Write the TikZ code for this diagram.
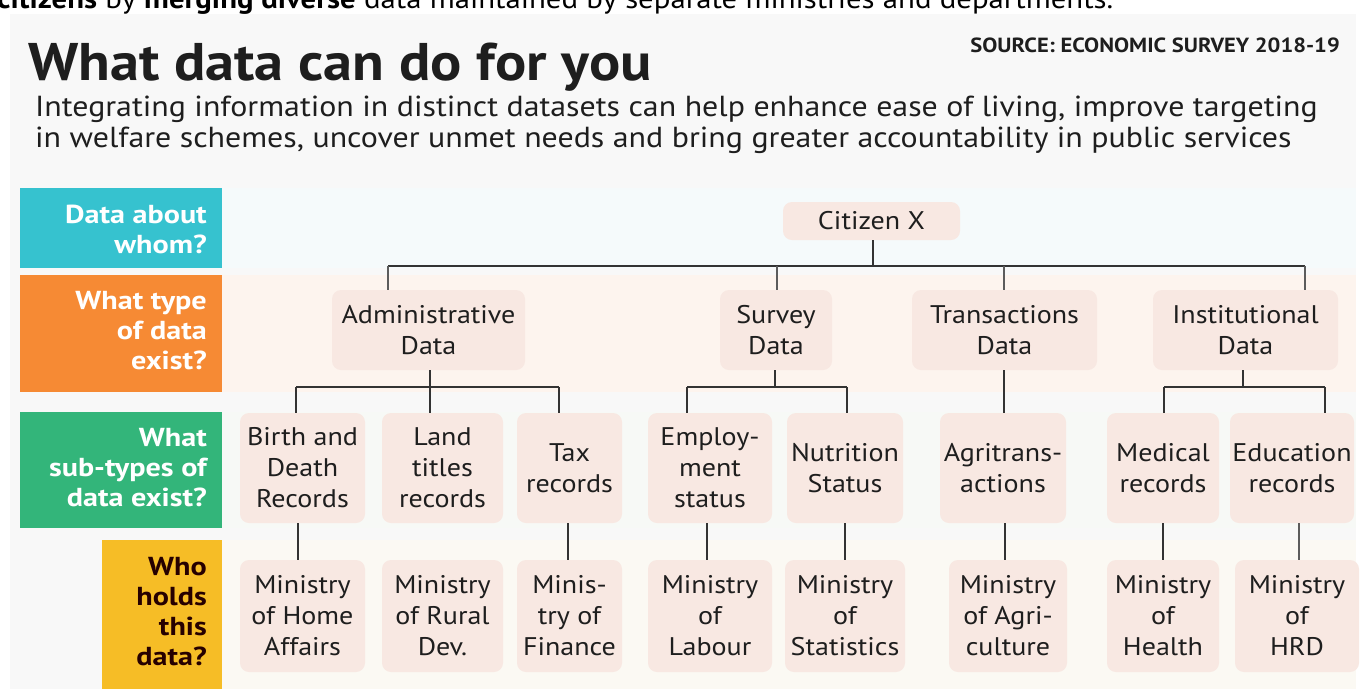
\documentclass[tikz,border=0pt]{standalone}
\usepackage{fontspec}
\setmainfont{PT Sans}[FakeStretch=1.1]
\newfontfamily\labelfont{PT Sans}[FakeStretch=1.16]
\definecolor{panel}{HTML}{F8F8F8}
\definecolor{bandA}{HTML}{F5FAFB}
\definecolor{bandB}{HTML}{FDF4EE}
\definecolor{bandC}{HTML}{F7F9F6}
\definecolor{bandD}{HTML}{FBF9F3}
\definecolor{qcyan}{HTML}{36C2CF}
\definecolor{qorange}{HTML}{F68A34}
\definecolor{qgreen}{HTML}{33B57A}
\definecolor{qyellow}{HTML}{F6BD26}
\definecolor{boxfill}{HTML}{F8E8E2}
\definecolor{ink}{HTML}{1E1E1E}
\definecolor{wire}{HTML}{333333}
\begin{document}
\begin{tikzpicture}[x=1pt,y=-1pt,
  databox/.style={fill=boxfill,rounded corners=9pt,inner sep=0pt,align=center,
    text=ink,font=\fontsize{25.5}{31}\selectfont},
  qlabel/.style={anchor=east,inner sep=0pt,align=right,
    font=\labelfont\fontsize{26}{30}\selectfont\bfseries},
  bus/.style={draw=wire,line width=2.2pt},
  drop/.style={draw=wire!80,line width=1.1pt},
  stem/.style={draw=wire,line width=1.4pt}]
\useasboundingbox (0,0) rectangle (1361,689);
\clip (0,0) rectangle (1361,689);
\fill[white] (0,0) rectangle (1361,689);

% line of running text above the panel
\node[anchor=base west,inner sep=0pt,text=black,font=\fontsize{28}{30}\selectfont]
  (lead) at (-3,8) {\textbf{citizens} by \textbf{merging diverse} data maintained by separate ministries and departments.};

% panel and row bands
\fill[panel] (10,14) rectangle (1356,689);
\fill[bandA] (222,188) rectangle (1356,268);
\fill[bandB] (222,275) rectangle (1356,392);
\fill[bandC] (222,412) rectangle (1356,528);
\fill[bandD] (222,540) rectangle (1356,689);

% heading
\node[anchor=base west,inner sep=0pt,text=ink,font=\fontsize{53}{60}\selectfont\bfseries]
  (title) at (28,80) {What data can do for you};
\node[anchor=base east,inner sep=0pt,text=ink,font=\fontsize{20.5}{22}\selectfont\bfseries]
  (source) at (1340,52) {SOURCE: ECONOMIC SURVEY 2018-19};
\node[anchor=base west,inner sep=0pt,text=ink,font=\fontsize{29}{31}\selectfont]
  (sub1) at (35,116) {Integrating information in distinct datasets can help enhance ease of living, improve targeting};
\node[anchor=base west,inner sep=0pt,text=ink,font=\fontsize{29}{31}\selectfont]
  (sub2) at (35,147) {in welfare schemes, uncover unmet needs and bring greater accountability in public services};

% question column
\fill[qcyan] (20,188) rectangle (222,268);
\fill[qorange] (20,275) rectangle (222,392);
\fill[qgreen] (20,412) rectangle (222,528);
\fill[qyellow] (102,540) rectangle (222,689);
\node[qlabel,text=white] (q1) at (207,229) {Data about\\whom?};
\node[qlabel,text=white] (q2) at (207,331) {What type\\of data\\exist?};
\node[qlabel,text=white] (q3) at (207,468) {What\\sub-types of\\data exist?};
\node[qlabel,text=black!85!red] (q4) at (207,612) {Who\\holds\\this\\data?};

% level 1
\node[databox,minimum width=177pt,minimum height=38pt] (cit) at (871.5,221) {Citizen X};

% level 2
\node[databox,minimum width=193pt,minimum height=80pt] (adm) at (428.5,330) {Administrative\\Data};
\node[databox,minimum width=112pt,minimum height=80pt] (sur) at (776,330) {Survey\\Data};
\node[databox,minimum width=185pt,minimum height=80pt] (tra) at (1004.5,330) {Transactions\\Data};
\node[databox,minimum width=185pt,minimum height=80pt] (ins) at (1245.5,330) {Institutional\\Data};

% level 3
\node[databox,minimum width=125pt,minimum height=110pt] (bir) at (302.5,468) {Birth and\\Death\\Records};
\node[databox,minimum width=121pt,minimum height=110pt] (lan) at (442.5,468) {Land\\titles\\records};
\node[databox,minimum width=105pt,minimum height=110pt] (tax) at (569.5,468) {Tax\\records};
\node[databox,minimum width=124pt,minimum height=110pt] (emp) at (710,468) {Employ-\\ment\\status};
\node[databox,minimum width=116pt,minimum height=110pt] (nut) at (845,468) {Nutrition\\Status};
\node[databox,minimum width=126pt,minimum height=110pt] (agr) at (1003,468) {Agritrans-\\actions};
\node[databox,minimum width=112pt,minimum height=110pt] (med) at (1163,468) {Medical\\records};
\node[databox,minimum width=124pt,minimum height=110pt] (edu) at (1292,468) {Education\\records};

% level 4
\node[databox,minimum width=125pt,minimum height=112pt] (home) at (302.5,616) {Ministry\\of Home\\Affairs};
\node[databox,minimum width=121pt,minimum height=112pt] (rur) at (442.5,616) {Ministry\\of Rural\\Dev.};
\node[databox,minimum width=105pt,minimum height=112pt] (fin) at (569.5,616) {Minis-\\try of\\Finance};
\node[databox,minimum width=124pt,minimum height=112pt] (lab) at (710,616) {Ministry\\of\\Labour};
\node[databox,minimum width=120pt,minimum height=112pt] (sta) at (845,616) {Ministry\\of\\Statistics};
\node[databox,minimum width=118pt,minimum height=112pt] (agm) at (1008,616) {Ministry\\of Agri-\\culture};
\node[databox,minimum width=112pt,minimum height=112pt] (hea) at (1163,616) {Ministry\\of\\Health};
\node[databox,minimum width=124pt,minimum height=112pt] (hrd) at (1297,616) {Ministry\\of\\HRD};

% junction points of the bus lines
\coordinate (b1) at (873,266);
\coordinate (b1l) at (388,266);
\coordinate (b1r) at (1305,266);
\coordinate (bs) at (777,266);
\coordinate (bt) at (1004,266);
\coordinate (ja) at (430,387);
\coordinate (jal) at (296,387);
\coordinate (jar) at (559,387);
\coordinate (js) at (775,387);
\coordinate (jsl) at (687,387);
\coordinate (jsr) at (847,387);
\coordinate (ji) at (1243,387);
\coordinate (jil) at (1164,387);
\coordinate (jir) at (1325,387);

% citizen to data types
\draw[stem] (cit.south -| b1) -- (b1);
\draw[bus] (b1l) -- (b1r);
\draw[drop] (b1l) -- (b1l |- adm.north);
\draw[drop] (bs) -- (bs |- sur.north);
\draw[drop] (bt) -- (bt |- tra.north);
\draw[drop] (b1r) -- (b1r |- ins.north);

% data types to sub-types
\draw[stem] (adm.south -| ja) -- (ja);
\draw[bus] (jal) -- (jar);
\draw[stem] (jal) -- (jal |- bir.north);
\draw[stem] (ja) -- (ja |- lan.north);
\draw[stem] (jar) -- (jar |- tax.north);

\draw[stem] (sur.south -| js) -- (js);
\draw[bus] (jsl) -- (jsr);
\draw[stem] (jsl) -- (jsl |- emp.north);
\draw[stem] (jsr) -- (jsr |- nut.north);

\draw[stem] (tra.south -| bt) -- (bt |- agr.north);

\draw[stem] (ins.south -| ji) -- (ji);
\draw[bus] (jil) -- (jir);
\draw[stem] (jil) -- (jil |- med.north);
\draw[stem] (jir) -- (jir |- edu.north);

% sub-types to holders
\draw[stem] (bir.south -| 298,0) -- (home.north -| 298,0);
\draw[stem] (tax.south -| 568,0) -- (fin.north -| 568,0);
\draw[stem] (emp.south -| 707,0) -- (lab.north -| 707,0);
\draw[stem] (nut.south -| 845,0) -- (sta.north -| 845,0);
\draw[stem] (agr.south -| 1005,0) -- (agm.north -| 1005,0);
\draw[stem] (med.south -| 1163,0) -- (hea.north -| 1163,0);
\draw[drop] (edu.south -| 1299,0) -- (hrd.north -| 1299,0);
\end{tikzpicture}
\end{document}
